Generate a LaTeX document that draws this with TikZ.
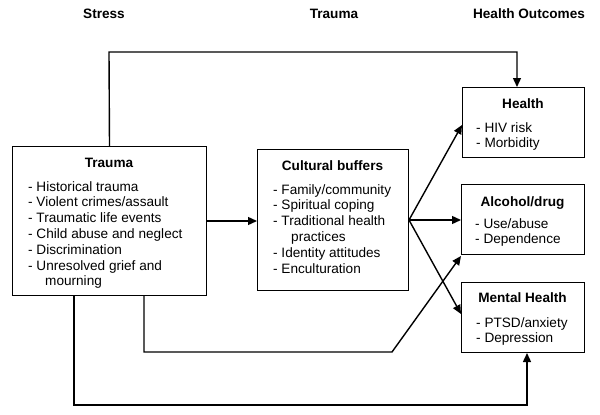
\documentclass[tikz,border=0pt]{standalone}
\usepackage{fontspec}
\setmainfont{Liberation Sans}
\usetikzlibrary{arrows.meta}
\begin{document}
\begin{tikzpicture}[x=1pt,y=-1pt,
  box/.style={draw, line width=1pt, inner sep=0pt, anchor=north west},
  ttl/.style={font=\fontsize{13.6}{16}\selectfont\bfseries, anchor=base, inner sep=0pt},
  hdr/.style={font=\fontsize{13.6}{16}\selectfont\bfseries, anchor=base, inner sep=0pt},
  lst/.style={font=\fontsize{13.6}{15.8}\selectfont, anchor=base west, inner sep=0pt},
  conn/.style={line width=1.4pt, -{Triangle[length=9pt,width=8pt]}}]
\useasboundingbox (0,0) rectangle (600,415);
% headers
\node[hdr] (h1) at (104,19) {Stress};
\node[hdr] (h2) at (334,19) {Trauma};
\node[hdr] (h3) at (529,19) {Health Outcomes};
% Trauma box
\node[box, minimum width=194pt, minimum height=149pt] (tr) at (12,146) {};
\node[ttl] (trt) at (109,167) {Trauma};
\node[lst] (trl) at (28,191) {\parbox[t]{175pt}{- Historical trauma\\- Violent crimes/assault\\- Traumatic life events\\- Child abuse and neglect\\- Discrimination\\- Unresolved grief and\\\hspace*{17pt}mourning}};
% Cultural buffers
\node[box, minimum width=151pt, minimum height=141pt] (cb) at (257,149) {};
\node[ttl] (cbt) at (332.5,170) {Cultural buffers};
\node[lst] (cbl) at (273,194) {\parbox[t]{135pt}{- Family/community\\- Spiritual coping\\- Traditional health\\\hspace*{18pt}practices\\- Identity attitudes\\- Enculturation}};
% Health
\node[box, minimum width=122pt, minimum height=70pt] (he) at (462,87) {};
\node[ttl] (het) at (523,108) {Health};
\node[lst] (hel) at (476,132) {\parbox[t]{105pt}{- HIV risk\\- Morbidity}};
% Alcohol/drug
\node[box, minimum width=123pt, minimum height=70pt] (al) at (461,184) {};
\node[ttl] (alt) at (522.5,206) {Alcohol/drug};
\node[lst] (all) at (475,228) {\parbox[t]{105pt}{- Use/abuse\\- Dependence}};
% Mental Health
\node[box, minimum width=123pt, minimum height=70pt] (mh) at (461,282) {};
\node[ttl] (mht) at (522.5,302) {Mental Health};
\node[lst] (mhl) at (476,327) {\parbox[t]{105pt}{- PTSD/anxiety\\- Depression}};
% connectors
\coordinate (c1) at (109,52);
\coordinate (c2) at (517,52);
\draw[conn] (tr.north) -- (c1) -- (c2) -- (c2 |- he.north);
\draw[conn] (tr.east) -- (tr.east -| cb.west);
\coordinate (hin) at (462,125);
\coordinate (min) at (461,314);
\draw[conn] (cb.east) -- (hin);
\draw[conn] (cb.east) -- (cb.east -| al.west);
\draw[conn] (cb.east) -- (min);
\coordinate (d1) at (144,352);
\coordinate (d2) at (392,352);
\coordinate (ain) at (461,256);
\draw[conn] (tr.south -| d1) -- (d1) -- (d2) -- (ain);
\coordinate (e1) at (74,405);
\coordinate (e2) at (527,405);
\draw[conn] (tr.south -| e1) -- (e1) -- (e2) -- (e2 |- mh.south);
\end{tikzpicture}
\end{document}
